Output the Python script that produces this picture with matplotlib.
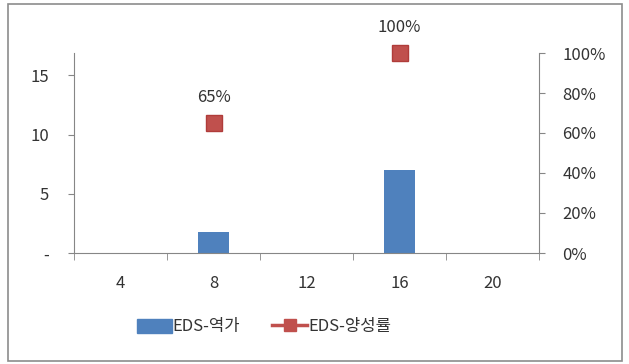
import numpy as np
import matplotlib.pyplot as plt
from matplotlib.patches import Rectangle
from matplotlib.lines import Line2D
from matplotlib.ticker import FuncFormatter, PercentFormatter

plt.rcParams['font.family'] = ['Noto Sans CJK KR', 'DejaVu Sans']

# data
categories = ['4', '8', '12', '16', '20']
titer = [0, 1.75, 0, 7.05, 0]                 # EDS-역가
positive_rate = [np.nan, 0.65, np.nan, 1.00, np.nan]   # EDS-양성률
rate_labels = ['', '65%', '', '100%', '']

fig = plt.figure(figsize=(6.29, 3.64), dpi=100)
W, H = 629, 364
ax = fig.add_axes([74 / W, 1 - 253 / H, (539 - 74) / W, (253 - 53) / H])
ax2 = ax.twinx()

x = np.arange(len(categories))
blue = '#4f81bd'
red = '#c0504d'
grey = '#868686'
txt = '#333333'
fs = 12

ax.bar(x, titer, width=0.33, color=blue, zorder=2)
ax.set_xlim(-0.5, len(categories) - 0.5)
ax.set_ylim(0, 16.9)
ax.set_yticks([0, 5, 10, 15])
ax.yaxis.set_major_formatter(FuncFormatter(lambda v, p: '-' if v == 0 else f'{v:g}'))

ax2.plot(x, positive_rate, linestyle='none', marker='s', markersize=11,
         color=red, markeredgecolor='#b03c3a', zorder=3, clip_on=False)
ax2.set_ylim(0, 1.0)
ax2.set_yticks(np.arange(0, 1.01, 0.2))
ax2.yaxis.set_major_formatter(PercentFormatter(1.0, decimals=0))
for xi, v, lab in zip(x, positive_rate, rate_labels):
    if lab:
        ax2.annotate(lab, (xi, v), xytext=(0, 12), textcoords='offset points',
                     ha='center', va='bottom', fontsize=fs, color=txt,
                     annotation_clip=False)

# category ticks sit between the groups
ax.set_xticks(x)
ax.set_xticklabels(categories)
ax.set_xticks(np.arange(-0.5, len(categories), 1.0), minor=True)
ax.tick_params(axis='x', which='major', length=0, pad=16, labelsize=fs,
               labelcolor=txt)
ax.tick_params(axis='x', which='minor', length=5, color=grey, direction='out')
ax.tick_params(axis='y', length=4, color=grey, labelsize=fs,
               labelcolor=txt, pad=14)
ax2.tick_params(axis='y', length=4, color=grey, labelsize=fs,
                labelcolor=txt, pad=13)

for a in (ax, ax2):
    a.spines['top'].set_visible(False)
    for s in ('left', 'right', 'bottom'):
        a.spines[s].set_color(grey)
ax.spines['right'].set_visible(False)
ax2.spines['left'].set_visible(False)
ax2.spines['bottom'].set_visible(False)

handles = [
    Rectangle((0, 0), 1, 1, color=blue),
    Line2D([], [], color=red, marker='s', markersize=8, linewidth=2.5),
]
fig.legend(handles, ['EDS-역가', 'EDS-양성률'], loc='center',
           bbox_to_anchor=(264 / W, 1 - 327 / H), ncol=2, frameon=False,
           fontsize=fs, handlelength=2.1, handleheight=0.9,
           columnspacing=1.9, handletextpad=0.05, labelcolor=txt)

# outer chart border
fig.patches.append(Rectangle((8 / W, 3 / H), (622 - 8) / W, (360 - 3) / H,
                             transform=fig.transFigure, fill=False,
                             edgecolor='#8c8c8c', linewidth=1.2))

fig.savefig('out.png', dpi=100)
